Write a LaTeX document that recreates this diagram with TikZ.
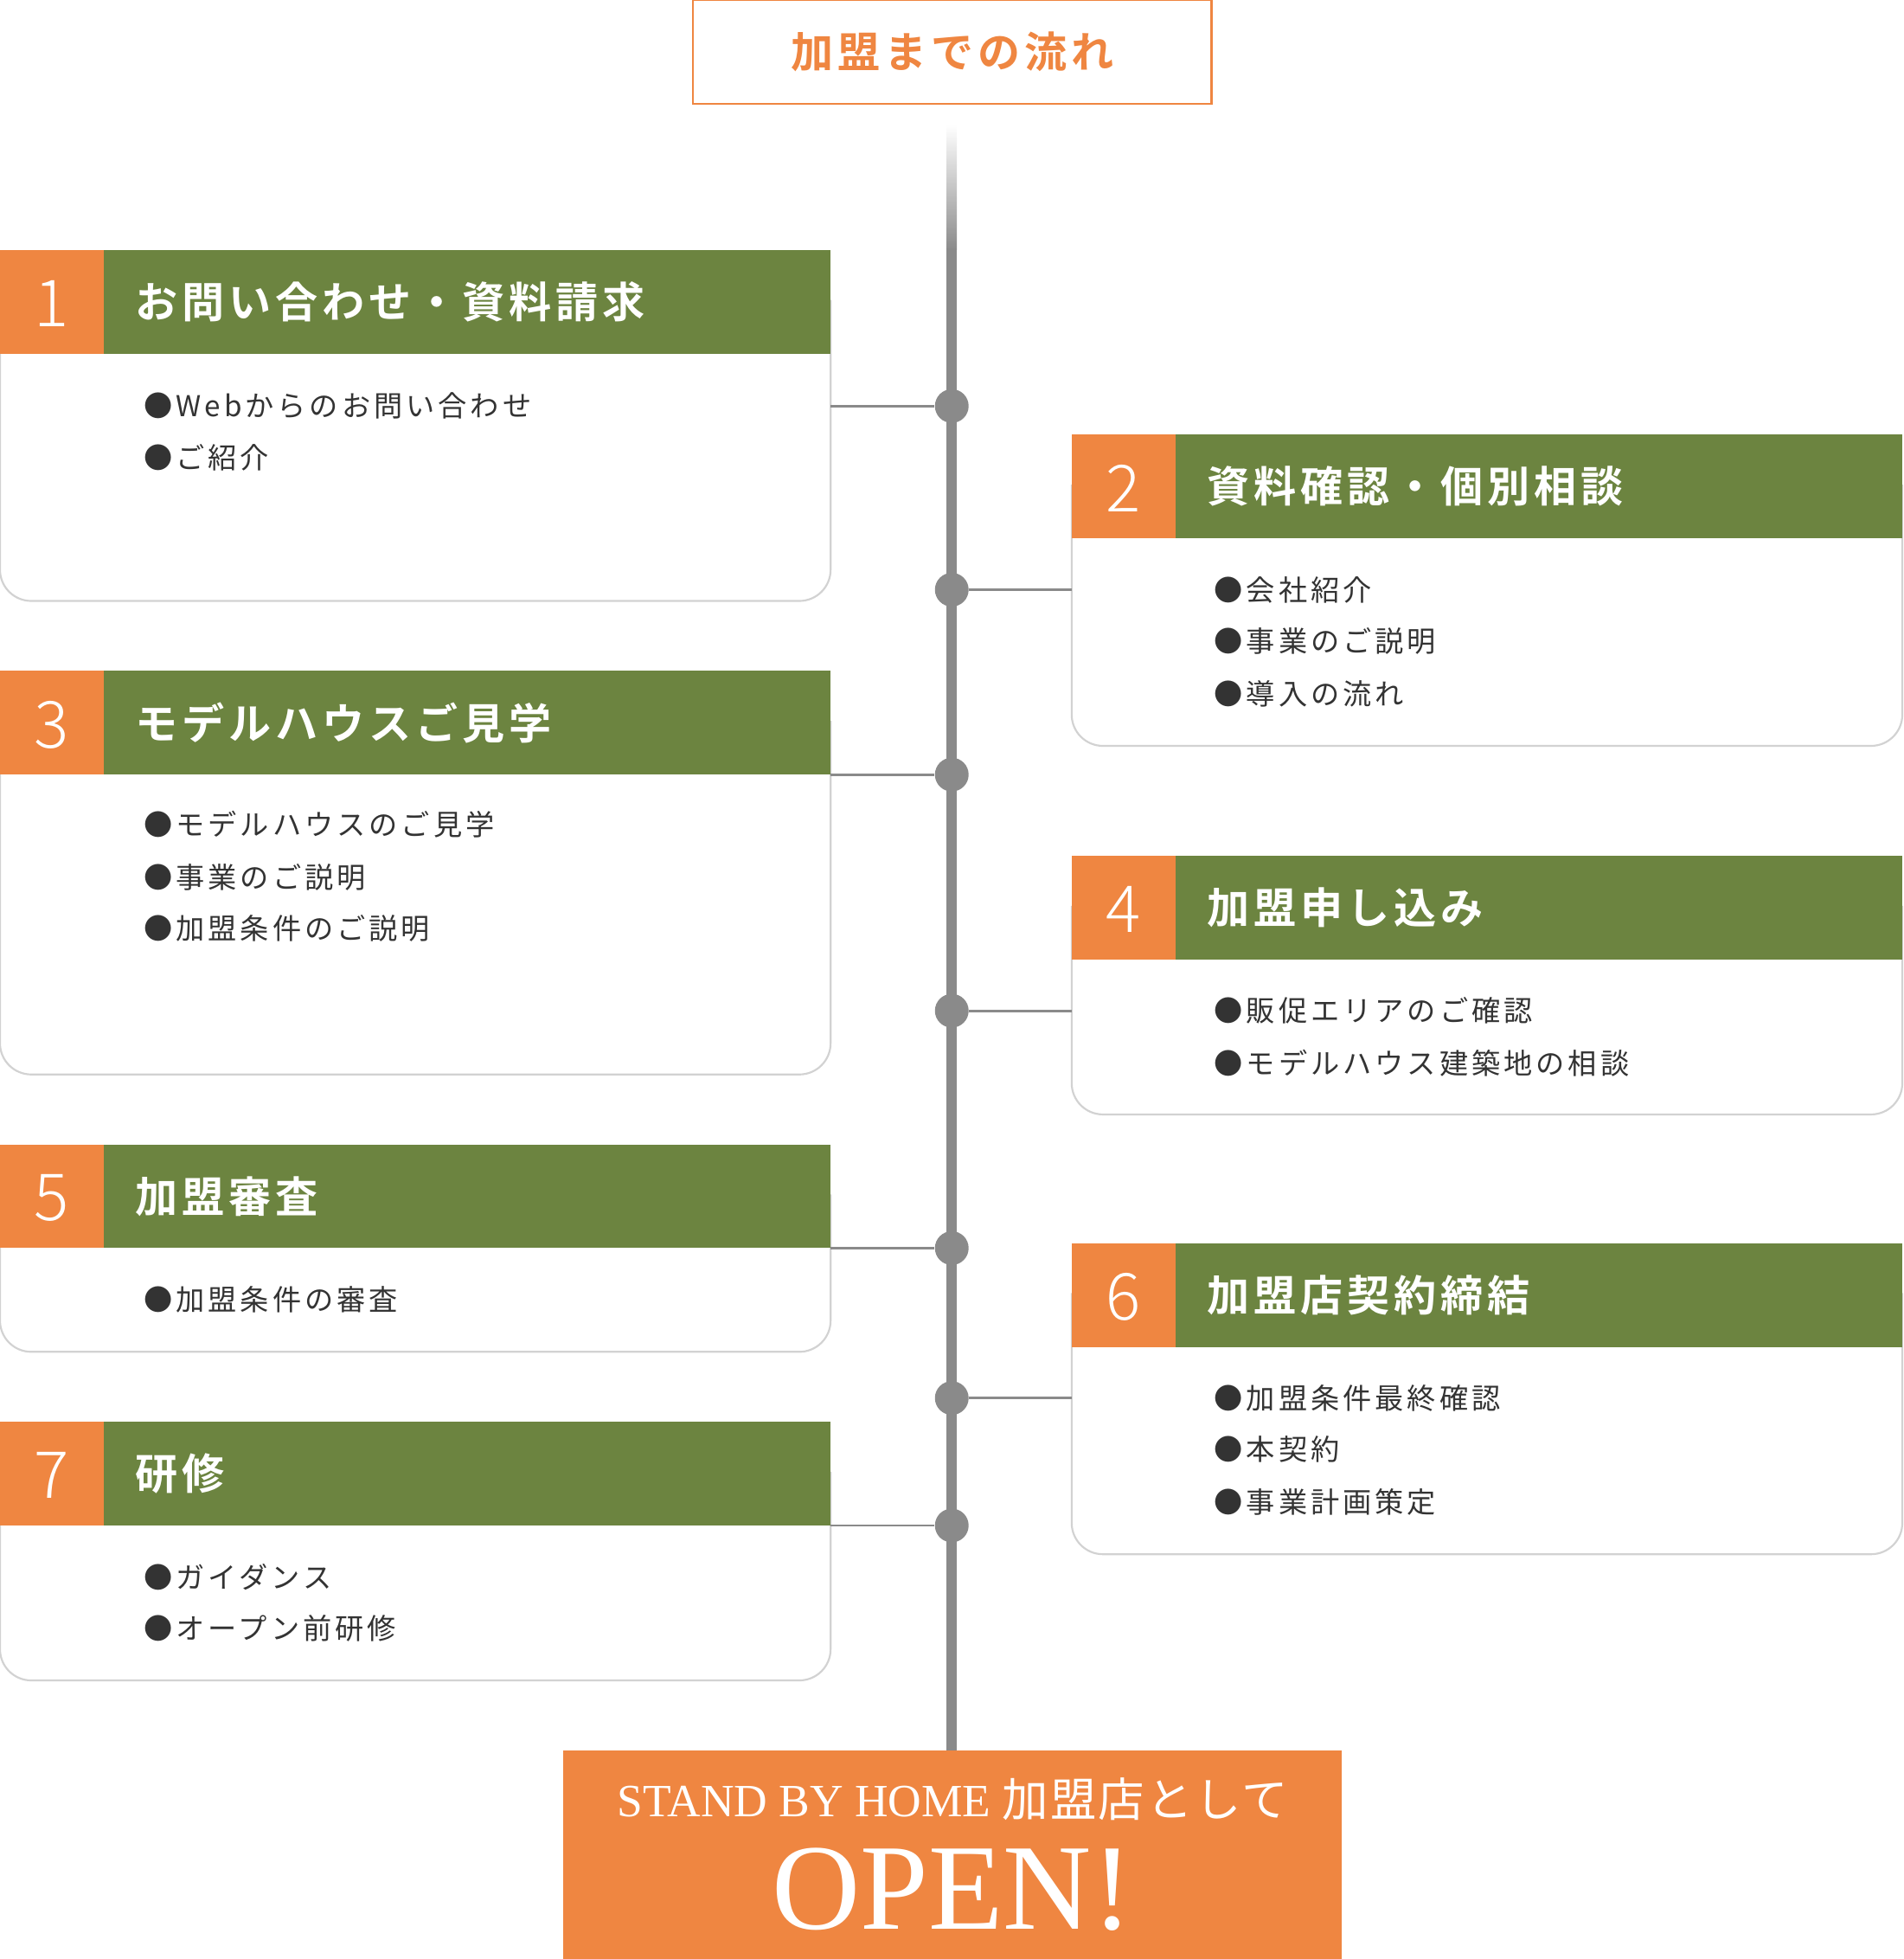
\documentclass[tikz,border=0pt]{standalone}
\usepackage{fontspec}
\setmainfont{Liberation Serif}
\newfontfamily\jp[LetterSpace=12]{Noto Sans CJK JP}
\newfontfamily\jpb[LetterSpace=10]{Noto Sans CJK JP Bold}
\newfontfamily\jpt[LetterSpace=4]{Noto Sans CJK JP}
\newfontfamily\numf{Noto Sans CJK JP Light}
\definecolor{org}{HTML}{EF8641}
\definecolor{grn}{HTML}{6C8440}
\definecolor{lgray}{HTML}{8A8A8A}
\definecolor{bord}{HTML}{D2D2D2}
\definecolor{txt}{HTML}{333333}
\tikzset{
 card/.style={draw=bord,line width=1.5pt,fill=white,rounded corners=25pt},
 hdr/.style={fill=grn},
 num/.style={fill=org},
 numt/.style={text=white,font=\numf\fontsize{52}{52}\selectfont},
 htxt/.style={anchor=west,text=white,font=\jpb\fontsize{34}{34}\selectfont},
 item/.style={anchor=west,text=txt,font=\jp\fontsize{23}{23}\selectfont,inner sep=0},
 dot/.style={circle,fill=lgray,minimum size=27pt,inner sep=0},
 conn/.style={draw=lgray,line width=2pt},
}
\newcommand\mycard[6]{% name, x0, top, bottom, number, title
 \draw[card] (#2,#3+40) -- (#2,#4) -- (#2+665,#4) -- (#2+665,#3+40);
 \fill[hdr] (#2+83,#3) rectangle (#2+665,#3+83);
 \fill[num] (#2,#3) rectangle (#2+83,#3+83);
 \node[numt] (#1n) at (#2+41.5,#3+43) {#5};
 \node[htxt] (#1h) at (#2+105,#3+41.5) {#6};
}
\begin{document}
\begin{tikzpicture}[x=1pt,y=-1pt]
\useasboundingbox (0,0) rectangle (1524,1568);
% timeline
\shade[top color=white,bottom color=lgray] (758,100) rectangle (766,200);
\fill[lgray] (758,199) rectangle (766,1402);
% title
\node[draw=org,line width=1.5pt,minimum width=415pt,minimum height=83pt,text=org,font=\jpb\fontsize{34}{34}\selectfont] (title) at (762.5,41.5) {加盟までの流れ};
% cards
\mycard{c1}{0}{200}{481}{1}{お問い合わせ・資料請求}
\mycard{c3}{0}{537}{860}{3}{モデルハウスご見学}
\mycard{c5}{0}{916}{1082}{5}{加盟審査}
\mycard{c7}{0}{1138}{1345}{7}{研修}
\mycard{c2}{858}{348}{597}{2}{資料確認・個別相談}
\mycard{c4}{858}{685}{892}{4}{加盟申し込み}
\mycard{c6}{858}{995}{1244}{6}{加盟店契約締結}
% dots and connectors
\foreach \n/\y/\x in {d1/325/665,d3/620/665,d5/999/665,d7/1221/665,d2/472/858,d4/809/858,d6/1119/858}{
 \coordinate (\n e) at (\x,\y);
 \node[dot] (\n) at (762,\y) {};
 \draw[conn] (\n e) -- (\n);
}
% items
\node[item] at (115,325) {●Webからのお問い合わせ};
\node[item] at (115,366) {●ご紹介};
\node[item] at (115,660) {●モデルハウスのご見学};
\node[item] at (115,702) {●事業のご説明};
\node[item] at (115,743) {●加盟条件のご説明};
\node[item] at (115,1040) {●加盟条件の審査};
\node[item] at (115,1262) {●ガイダンス};
\node[item] at (115,1303) {●オープン前研修};
\node[item] at (972,472) {●会社紹介};
\node[item] at (972,513) {●事業のご説明};
\node[item] at (972,555) {●導入の流れ};
\node[item] at (972,809) {●販促エリアのご確認};
\node[item] at (972,851) {●モデルハウス建築地の相談};
\node[item] at (972,1119) {●加盟条件最終確認};
\node[item] at (972,1160) {●本契約};
\node[item] at (972,1202) {●事業計画策定};
% bottom
\fill[org] (451,1401) rectangle (1074,1568);
\node[text=white,font=\fontsize{37}{37}\selectfont] (open1) at (762.5,1440) {STAND BY HOME {\jpt 加盟店として}};
\node[text=white,font=\fontsize{98}{98}\selectfont] (open2) at (762.5,1512) {OPEN!};
\end{tikzpicture}
\end{document}
